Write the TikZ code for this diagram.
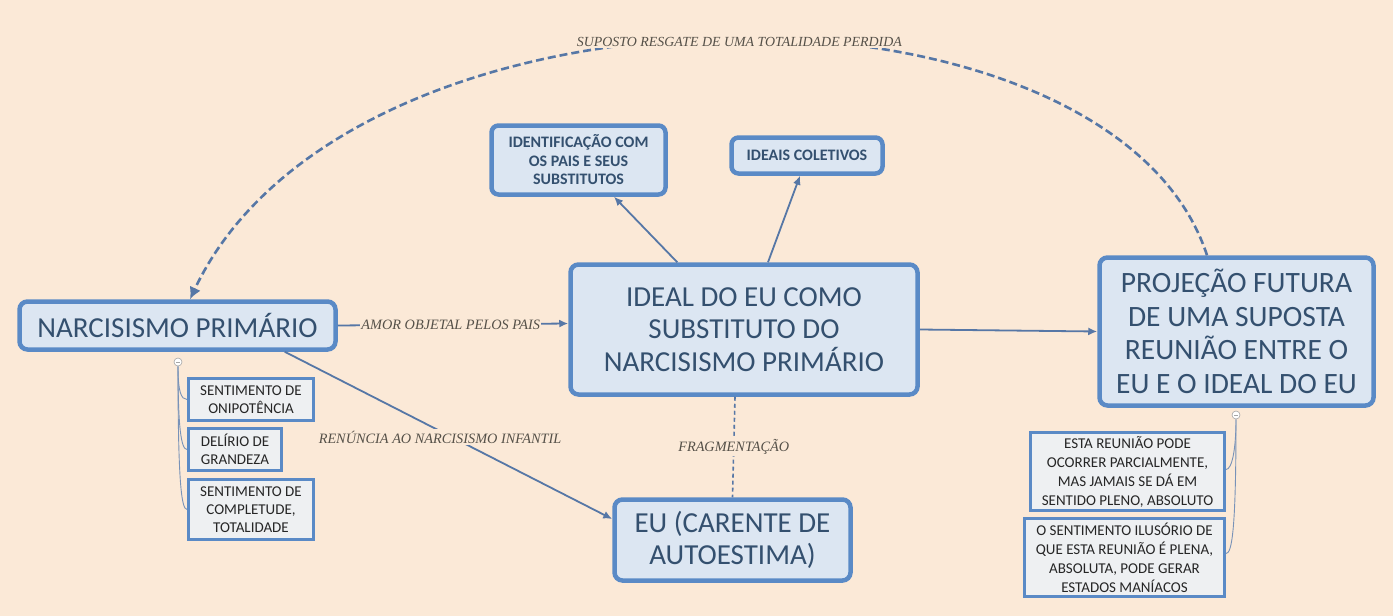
\documentclass[tikz,border=0pt]{standalone}
\usepackage{fontspec}
\setmainfont{Carlito}
\newfontfamily\lblfont{Liberation Serif}
\usetikzlibrary{arrows.meta,calc}
\definecolor{bg}{HTML}{FBE9D7}
\definecolor{boxfill}{HTML}{DCE6F2}
\definecolor{boxline}{HTML}{5A8AC6}
\definecolor{boxtext}{HTML}{34506F}
\definecolor{conn}{HTML}{5677A6}
\definecolor{smallfill}{HTML}{EEF0F2}
\definecolor{lbltext}{HTML}{555048}
\tikzset{
  bigbox/.style={draw=boxline, fill=boxfill, line width=4.5pt, rounded corners=8pt,
    text=boxtext, align=center, inner sep=0pt, font=\fontsize{29}{32.5}\selectfont},
  topbox/.style={draw=boxline, fill=boxfill, line width=4.5pt, rounded corners=7pt,
    text=boxtext, align=center, inner sep=0pt, font=\fontsize{16}{18.5}\selectfont\bfseries},
  leafbox/.style={draw=boxline, fill=smallfill, line width=3pt,
    text=black!85, align=center, inner sep=0pt, font=\fontsize{15}{18}\selectfont},
  arr/.style={draw=conn, line width=1.8pt, -{Latex[length=9pt,width=8pt]}},
  lbl/.style={fill=bg, inner sep=1.5pt, text=lbltext, font=\lblfont\itshape\fontsize{14.3}{16}\selectfont},
  thin/.style={draw=conn!80, line width=0.9pt},
  knob/.style={circle, draw=gray!70, fill=white, line width=0.6pt, minimum size=8pt, inner sep=0pt}
}
\begin{document}
\begin{tikzpicture}[x=1pt,y=-1pt]
\fill[bg] (0,0) rectangle (1393,616);
\useasboundingbox (0,0) rectangle (1393,616);

% main boxes
\node[bigbox, minimum width=316, minimum height=48] (narc) at (177.5,325.5) {NARCISISMO PRIMÁRIO};
\node[bigbox, minimum width=347, minimum height=130] (ideal) at (744,329.5) {IDEAL DO EU COMO\\SUBSTITUTO DO\\NARCISISMO PRIMÁRIO};
\node[bigbox, minimum width=274, minimum height=148, font=\fontsize{29.5}{33.5}\selectfont] (proj) at (1236.5,331.5) {PROJEÇÃO FUTURA\\DE UMA SUPOSTA\\REUNIÃO ENTRE O\\EU E O IDEAL DO EU};
\node[bigbox, minimum width=236, minimum height=81] (eu) at (732.5,540) {EU (CARENTE DE\\AUTOESTIMA)};
\node[topbox, minimum width=174, minimum height=69] (ident) at (578.5,160) {IDENTIFICAÇÃO COM\\OS PAIS E SEUS\\SUBSTITUTOS};
\node[topbox, minimum width=151, minimum height=36] (ideais) at (807,155.5) {IDEAIS COLETIVOS};

% leaf boxes left
\node[leafbox, minimum width=125, minimum height=42] (onip) at (251,399.5) {SENTIMENTO DE\\ONIPOTÊNCIA};
\node[leafbox, minimum width=93, minimum height=42] (delir) at (235,449.5) {DELÍRIO DE\\GRANDEZA};
\node[leafbox, minimum width=125, minimum height=60] (compl) at (251,509.5) {SENTIMENTO DE\\COMPLETUDE,\\TOTALIDADE};

% leaf boxes right
\node[leafbox, minimum width=194, minimum height=78, font=\fontsize{15}{19}\selectfont] (parc) at (1127.5,471.5) {ESTA REUNIÃO PODE\\OCORRER PARCIALMENTE,\\MAS JAMAIS SE DÁ EM\\SENTIDO PLENO, ABSOLUTO};
\node[leafbox, minimum width=200, minimum height=78, font=\fontsize{15}{19}\selectfont] (ilus) at (1124.5,557.5) {O SENTIMENTO ILUSÓRIO DE\\QUE ESTA REUNIÃO É PLENA,\\ABSOLUTA, PODE GERAR\\ESTADOS MANÍACOS};

% knobs
\node[knob] (kl) at (178,362) {};
\node[knob] (kr) at (1236,415) {};
\draw[gray!70, line width=0.6pt] ([xshift=-2pt]kl.center) -- ([xshift=2pt]kl.center);
\draw[gray!70, line width=0.6pt] ([xshift=-2pt]kr.center) -- ([xshift=2pt]kr.center);

% thin leaf connectors
\draw[thin] (kl.south) .. controls ([yshift=-25pt]kl.south) and ([xshift=-6pt]onip.west) .. (onip.west);
\draw[thin] (kl.south) .. controls ([yshift=-60pt]kl.south) and ([xshift=-6pt]delir.west) .. (delir.west);
\draw[thin] (kl.south) .. controls ([yshift=-110pt]kl.south) and ([xshift=-6pt]compl.west) .. (compl.west);
\draw[thin] (kr.south) .. controls ([yshift=-30pt]kr.south) and ([xshift=6pt,yshift=2pt]parc.east) .. ([yshift=2pt]parc.east);
\draw[thin] (kr.south) .. controls ([yshift=-110pt]kr.south) and ([xshift=6pt,yshift=4pt]ilus.east) .. ([yshift=4pt]ilus.east);

% main connectors
\draw[arr] (narc.east) -- node[lbl, pos=0.49] (lamor) {AMOR OBJETAL PELOS PAIS} ([yshift=6pt]ideal.west);
\draw[arr] ([xshift=-53pt]narc.south east) -- node[lbl, pos=0.474, yshift=-6pt] (lren) {RENÚNCIA AO NARCISISMO INFANTIL} ([yshift=21pt]eu.west);
\draw[arr] ([xshift=109pt]ideal.north west) -- ([xshift=35.5pt]ident.south);
\draw[arr] ([xshift=24pt]ideal.north) -- ([xshift=-7pt]ideais.south);
\draw[arr] (ideal.east) -- (proj.west);
\draw[conn, line width=1.6pt, dash pattern=on 4pt off 3pt] ([xshift=-9pt]ideal.south) -- node[lbl, pos=0.5] (lfrag) {FRAGMENTAÇÃO} (eu.north);
\draw[conn, line width=2.6pt, dash pattern=on 8pt off 4pt, -{Latex[length=12pt,width=12pt]}]
  ([xshift=-29.5pt]proj.north) .. controls (1110,-40) and (350,-40) .. node[lbl, pos=0.487, yshift=-3pt, font=\lblfont\itshape\fontsize{13.9}{16}\selectfont] (lresg) {SUPOSTO RESGATE DE UMA TOTALIDADE PERDIDA} ([xshift=12.5pt]narc.north);
\end{tikzpicture}
\end{document}
